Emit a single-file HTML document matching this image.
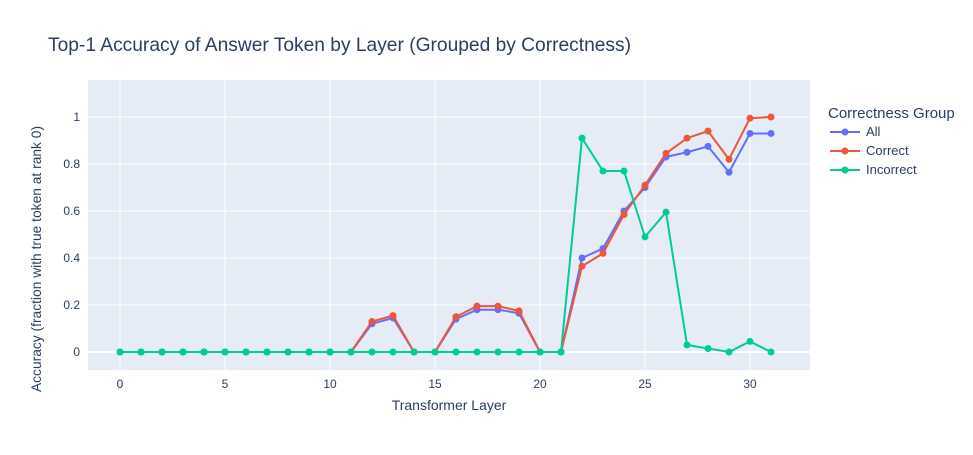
<!DOCTYPE html>
<html><head><meta charset="utf-8"><style>
body{margin:0;background:#fff;font-family:"Liberation Sans",Arial,sans-serif;}
svg text{font-family:"Liberation Sans",Arial,sans-serif;fill:#2a3f5f;}
</style></head><body>
<svg id="chart" width="973" height="450">
<text x="48" y="51" font-size="19.2">Top-1 Accuracy of Answer Token by Layer (Grouped by Correctness)</text>
<rect x="88" y="80" width="722" height="290" fill="#e5ecf6"/>
<g id="grid"></g><g id="series"></g>
<text x="449" y="410" font-size="14" text-anchor="middle">Transformer Layer</text>
<text transform="translate(41,259) rotate(-90)" font-size="13.8" text-anchor="middle">Accuracy (fraction with true token at rank 0)</text>
<g id="legend">
<text x="828" y="118" font-size="15">Correctness Group</text>
</g>
</svg>
<script>
const layers=[...Array(32).keys()];
const allVals=[0,0,0,0,0,0,0,0,0,0,0,0,0.12,0.145,0,0,0.14,0.18,0.18,0.165,0,0,0.40,0.44,0.60,0.70,0.83,0.85,0.875,0.765,0.93,0.93];
const correctVals=[0,0,0,0,0,0,0,0,0,0,0,0,0.13,0.155,0,0,0.15,0.195,0.195,0.175,0,0,0.365,0.42,0.585,0.71,0.845,0.91,0.94,0.82,0.995,1.0];
const incorrectVals=[0,0,0,0,0,0,0,0,0,0,0,0,0,0,0,0,0,0,0,0,0,0,0.91,0.77,0.77,0.49,0.595,0.03,0.015,0,0.045,0];
const xTicks=[0,5,10,15,20,25,30];
const yTicks=[0,0.2,0.4,0.6,0.8,1];
const seriesNames=["All","Correct","Incorrect"];
const colors=["#636efa","#ef553b","#00cc96"];
const NS="http://www.w3.org/2000/svg";
const X=v=>120+v*21, Y=v=>352-v*235;
function mk(t,a,p){const e=document.createElementNS(NS,t);for(const k in a)e.setAttribute(k,a[k]);p.appendChild(e);return e;}
const g=document.getElementById('grid');
xTicks.forEach(t=>{
 const l=mk('line',{x1:X(t),x2:X(t),y1:80,y2:370,stroke:'#fff','stroke-width':1},g);
 
 
 const tx=mk('text',{x:X(t),y:388,'font-size':12,'text-anchor':'middle'},g);tx.textContent=t;
 
 
});
yTicks.forEach(t=>{
 const l=mk('line',{x1:88,x2:810,y1:Y(t),y2:Y(t),stroke:'#fff','stroke-width':t===0?2:1},g);
 
 
 const tx=mk('text',{x:80,y:Y(t)+4,'font-size':12,'text-anchor':'end'},g);tx.textContent=t;
 
 
});
const s=document.getElementById('series');
[allVals,correctVals,incorrectVals].forEach((vals,i)=>{
 const grp=mk('g',{},s);
 
 
 mk('polyline',{points:vals.map((v,j)=>X(layers[j])+','+Y(v)).join(' '),fill:'none',stroke:colors[i],'stroke-width':2},grp);
 vals.forEach((v,j)=>{const c=mk('circle',{cx:X(layers[j]),cy:Y(v),r:3.5,fill:colors[i]},grp);
  
  });
});
const lg=document.getElementById('legend');
seriesNames.forEach((n,i)=>{
 const y=132+i*19;
 const e=mk('g',{},lg);
 
 
 mk('line',{x1:830,x2:860,y1:y,y2:y,stroke:colors[i],'stroke-width':2},e);
 mk('circle',{cx:845,cy:y,r:3.5,fill:colors[i]},e);
 const t=mk('text',{x:866,y:y+4,'font-size':13},e);t.textContent=n;
});
</script>
</body></html>
